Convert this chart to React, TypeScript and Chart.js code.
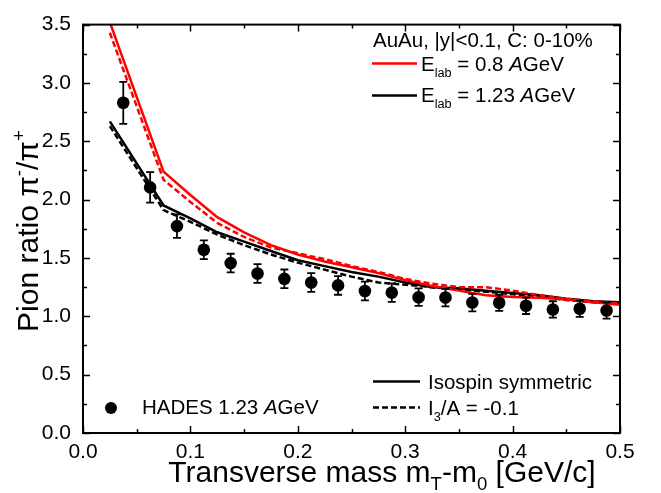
import React, { useEffect, useRef } from 'react';
import { Chart, registerables } from 'chart.js';
Chart.register(...registerables);

// HADES data (Au+Au 1.23 AGeV)
const hadesX = [0.0375, 0.0625, 0.0875, 0.1125, 0.1375, 0.1625, 0.1875, 0.2125, 0.2375, 0.2625, 0.2875, 0.3125, 0.3375, 0.3625, 0.3875, 0.4125, 0.4375, 0.4625, 0.4875];
const hadesY = [2.83, 2.105, 1.773, 1.57, 1.456, 1.367, 1.321, 1.29, 1.265, 1.217, 1.203, 1.164, 1.161, 1.118, 1.116, 1.09, 1.059, 1.065, 1.05];
const hadesErr = [0.18, 0.13, 0.1, 0.08, 0.08, 0.08, 0.08, 0.08, 0.08, 0.08, 0.08, 0.075, 0.075, 0.075, 0.07, 0.07, 0.07, 0.07, 0.07];

// model curves
const modelX = [0.025, 0.075, 0.1, 0.125, 0.15, 0.175, 0.2, 0.225, 0.25, 0.275, 0.3, 0.325, 0.35, 0.375, 0.4, 0.425, 0.45, 0.475, 0.5];
const red08Sym = [3.52, 2.24, 2.04, 1.85, 1.72, 1.61, 1.53, 1.47, 1.42, 1.37, 1.31, 1.26, 1.22, 1.18, 1.165, 1.16, 1.145, 1.12, 1.1];
const red08I3 = [3.43, 2.17, 1.98, 1.8, 1.68, 1.59, 1.54, 1.49, 1.43, 1.38, 1.32, 1.28, 1.25, 1.25, 1.22, 1.18, 1.15, 1.13, 1.11];
const blk123Sym = [2.67, 1.95, 1.84, 1.72, 1.64, 1.56, 1.48, 1.43, 1.38, 1.34, 1.29, 1.25, 1.24, 1.22, 1.2, 1.18, 1.15, 1.13, 1.12];
const blk123I3 = [2.63, 1.91, 1.81, 1.7, 1.61, 1.53, 1.46, 1.4, 1.34, 1.29, 1.27, 1.25, 1.23, 1.21, 1.19, 1.17, 1.14, 1.12, 1.11];

const xTicks = [0, 0.1, 0.2, 0.3, 0.4, 0.5];
const yTicks = [0, 0.5, 1.0, 1.5, 2.0, 2.5, 3.0, 3.5];

const FONT = "'Liberation Sans', Arial, Helvetica, sans-serif";

type Part = { t: string; sub?: boolean; sup?: boolean; it?: boolean };

function partFont(p: Part, size: number) {
  const s = p.sub || p.sup ? size * 0.62 : size;
  return `${p.it ? 'italic ' : ''}${s}px ${FONT}`;
}
function richWidth(ctx: CanvasRenderingContext2D, parts: Part[], size: number) {
  let w = 0;
  for (const p of parts) {
    ctx.font = partFont(p, size);
    w += ctx.measureText(p.t).width;
  }
  return w;
}
function drawRich(ctx: CanvasRenderingContext2D, x: number, y: number, parts: Part[], size: number, align: 'left' | 'center' = 'left') {
  let cx = align === 'center' ? x - richWidth(ctx, parts, size) / 2 : x;
  ctx.textAlign = 'left';
  ctx.textBaseline = 'alphabetic';
  for (const p of parts) {
    ctx.font = partFont(p, size);
    const dy = p.sub ? size * 0.28 : p.sup ? -size * 0.42 : 0;
    ctx.fillText(p.t, cx, y + dy);
    cx += ctx.measureText(p.t).width;
  }
}

const decor = {
  id: 'decor',
  afterDatasetsDraw(chart: any) {
    const ctx = chart.ctx as CanvasRenderingContext2D;
    const xs = chart.scales.x;
    const ys = chart.scales.y;
    // error bars
    ctx.save();
    ctx.strokeStyle = '#000';
    ctx.lineWidth = 1.8;
    for (let i = 0; i < hadesX.length; i++) {
      const px = xs.getPixelForValue(hadesX[i]);
      const top = ys.getPixelForValue(hadesY[i] + hadesErr[i]);
      const bot = ys.getPixelForValue(hadesY[i] - hadesErr[i]);
      ctx.beginPath();
      ctx.moveTo(px, top);
      ctx.lineTo(px, bot);
      ctx.moveTo(px - 4, top);
      ctx.lineTo(px + 4, top);
      ctx.moveTo(px - 4, bot);
      ctx.lineTo(px + 4, bot);
      ctx.stroke();
    }
    ctx.restore();
  },
  afterDraw(chart: any) {
    const ctx = chart.ctx as CanvasRenderingContext2D;
    const a = chart.chartArea;
    const xs = chart.scales.x;
    const ys = chart.scales.y;
    ctx.save();
    ctx.strokeStyle = '#000';
    ctx.fillStyle = '#000';
    // frame
    ctx.lineWidth = 2;
    ctx.strokeRect(a.left, a.top, a.right - a.left, a.bottom - a.top);
    // ticks (inside)
    ctx.lineWidth = 1.5;
    ctx.beginPath();
    for (let k = 0; k <= 10; k++) {
      const v = k * 0.05;
      const px = Math.round(xs.getPixelForValue(v)) + 0.5;
      const len = k % 2 === 0 ? 7 : 4;
      ctx.moveTo(px, a.bottom);
      ctx.lineTo(px, a.bottom - len);
      ctx.moveTo(px, a.top);
      ctx.lineTo(px, a.top + len);
    }
    for (let k = 0; k <= 14; k++) {
      const v = k * 0.25;
      const py = Math.round(ys.getPixelForValue(v)) + 0.5;
      const len = k % 2 === 0 ? 7 : 4;
      ctx.moveTo(a.left, py);
      ctx.lineTo(a.left + len, py);
      ctx.moveTo(a.right, py);
      ctx.lineTo(a.right - len, py);
    }
    ctx.stroke();

    // legends
    const fs = 20.5;
    drawRich(ctx, 373, 47, [{ t: 'AuAu, |y|<0.1, C: 0-10%' }], fs);
    ctx.lineWidth = 2.5;
    ctx.strokeStyle = '#ff0000';
    ctx.beginPath();
    ctx.moveTo(372, 63.5);
    ctx.lineTo(417, 63.5);
    ctx.stroke();
    ctx.strokeStyle = '#000';
    ctx.beginPath();
    ctx.moveTo(372, 95.5);
    ctx.lineTo(417, 95.5);
    ctx.stroke();
    drawRich(ctx, 421, 71, [{ t: 'E' }, { t: 'lab', sub: true }, { t: ' = 0.8 ' }, { t: 'A', it: true }, { t: 'GeV' }], fs);
    drawRich(ctx, 421, 102, [{ t: 'E' }, { t: 'lab', sub: true }, { t: ' = 1.23 ' }, { t: 'A', it: true }, { t: 'GeV' }], fs);

    ctx.beginPath();
    ctx.moveTo(373, 381.5);
    ctx.lineTo(420, 381.5);
    ctx.stroke();
    ctx.setLineDash([6, 3]);
    ctx.beginPath();
    ctx.moveTo(373, 407.5);
    ctx.lineTo(420, 407.5);
    ctx.stroke();
    ctx.setLineDash([]);
    drawRich(ctx, 428, 389, [{ t: 'Isospin symmetric' }], fs);
    drawRich(ctx, 428, 415, [{ t: 'I' }, { t: '3', sub: true }, { t: '/A = -0.1' }], fs);

    ctx.beginPath();
    ctx.arc(111, 408, 6, 0, Math.PI * 2);
    ctx.fill();
    drawRich(ctx, 142, 414, [{ t: 'HADES 1.23 ' }, { t: 'A', it: true }, { t: 'GeV' }], fs);

    // axis titles
    drawRich(ctx, 382, 482, [{ t: 'Transverse mass m' }, { t: 'T', sub: true }, { t: '-m' }, { t: '0', sub: true }, { t: ' [GeV/c]' }], 30, 'center');
    ctx.translate(38, 231);
    ctx.rotate(-Math.PI / 2);
    drawRich(ctx, 0, 0, [{ t: 'Pion ratio ' }, { t: 'π' }, { t: '-', sup: true }, { t: '/' }, { t: 'π' }, { t: '+', sup: true }], 30, 'center');
    ctx.restore();
  },
};

export default function App() {
  const ref = useRef<HTMLCanvasElement>(null);
  useEffect(() => {
    if (!ref.current) return;
    const pts = (xs: number[], ys: number[]) => xs.map((x, i) => ({ x, y: ys[i] }));
    const line = (data: number[], color: string, dashed: boolean, order: number) => ({
      data: pts(modelX, data),
      showLine: true,
      borderColor: color,
      backgroundColor: color,
      borderWidth: 2.5,
      borderDash: dashed ? [6, 3] : [],
      pointRadius: 0,
      tension: 0,
      clip: 0,
      order,
    });
    const chart = new Chart(ref.current, {
      type: 'scatter',
      data: {
        datasets: [
          {
            data: pts(hadesX, hadesY),
            pointRadius: 6.3,
            pointBackgroundColor: '#000',
            pointBorderColor: '#000',
            pointBorderWidth: 0,
            showLine: false,
            order: 0,
          } as any,
          line(red08Sym, '#ff0000', false, 1),
          line(red08I3, '#ff0000', true, 2),
          line(blk123Sym, '#000000', false, 3),
          line(blk123I3, '#000000', true, 4),
        ],
      },
      options: {
        animation: false,
        responsive: true,
        maintainAspectRatio: false,
        devicePixelRatio: 1,
        layout: { padding: { top: 19, right: 41, left: 0, bottom: 0 } },
        plugins: { legend: { display: false }, tooltip: { enabled: false } },
        scales: {
          x: {
            type: 'linear',
            min: 0,
            max: 0.5,
            afterFit: (s: any) => { s.height = 60; },
            afterBuildTicks: (s: any) => { s.ticks = xTicks.map((v) => ({ value: v })); },
            grid: { display: false, drawTicks: false },
            border: { display: false },
            ticks: { color: '#000', padding: 7, maxRotation: 0, font: { family: FONT, size: 21 }, callback: (v: any) => Number(v).toFixed(1) },
          },
          y: {
            type: 'linear',
            min: 0,
            max: 3.5,
            afterFit: (s: any) => { s.width = 83; },
            afterBuildTicks: (s: any) => { s.ticks = yTicks.map((v) => ({ value: v })); },
            grid: { display: false, drawTicks: false },
            border: { display: false },
            ticks: { color: '#000', padding: 12, font: { family: FONT, size: 21 }, callback: (v: any) => Number(v).toFixed(1) },
          },
        },
      },
      plugins: [decor],
    });
    return () => chart.destroy();
  }, []);
  return (
    <div style={{ position: 'absolute', left: 0, top: 0, width: 661, height: 493, background: '#fff' }}>
      <canvas ref={ref} />
    </div>
  );
}
